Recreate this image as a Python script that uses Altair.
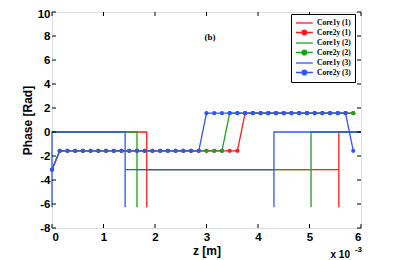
import altair as alt
import pandas as pd

# ---------------- data (z in units of 1e-3 m, phase in rad) ----------------
series_names = ["Core1y (1)", "Core2y (1)", "Core1y (2)", "Core2y (2)", "Core1y (3)", "Core2y (3)"]
series_colors = ["#ff1a1a", "#ff1a1a", "#1fa01f", "#1fa01f", "#3355f5", "#3355f5"]

core1y_1_z = [0.0, 1.84, 1.84, 1.84, 5.57, 5.57, 5.57, 6.0]
core1y_1_phase = [0.0, 0.0, -6.28, -3.14, -3.14, -6.28, 0.0, 0.0]
core1y_2_z = [0.0, 1.65, 1.65, 1.65, 5.03, 5.03, 5.03, 6.0]
core1y_2_phase = [0.0, 0.0, -6.28, -3.14, -3.14, -6.28, 0.0, 0.0]
core1y_3_z = [0.0, 0.0, 1.42, 1.42, 1.42, 4.31, 4.31, 4.31, 6.0]
core1y_3_phase = [-6.28, 0.0, 0.0, -6.28, -3.14, -3.14, -6.28, 0.0, 0.0]

core2y_z = [0.0, 0.15, 0.3, 0.45, 0.6, 0.75, 0.9, 1.05, 1.2, 1.35,
            1.5, 1.65, 1.8, 1.95, 2.1, 2.25, 2.4, 2.55, 2.7, 2.85,
            3.0, 3.15, 3.3, 3.45, 3.6, 3.75, 3.9, 4.05, 4.2, 4.35,
            4.5, 4.65, 4.8, 4.95, 5.1, 5.25, 5.4, 5.55, 5.7, 5.85]
core2y_1_phase = [-3.14, -1.57, -1.57, -1.57, -1.57, -1.57, -1.57, -1.57, -1.57, -1.57,
                  -1.57, -1.57, -1.57, -1.57, -1.57, -1.57, -1.57, -1.57, -1.57, -1.57,
                  -1.57, -1.57, -1.57, -1.57, -1.57, 1.57, 1.57, 1.57, 1.57, 1.57,
                  1.57, 1.57, 1.57, 1.57, 1.57, 1.57, 1.57, 1.57, 1.57, 1.57]
core2y_2_phase = [-3.14, -1.57, -1.57, -1.57, -1.57, -1.57, -1.57, -1.57, -1.57, -1.57,
                  -1.57, -1.57, -1.57, -1.57, -1.57, -1.57, -1.57, -1.57, -1.57, -1.57,
                  -1.57, -1.57, -1.57, 1.57, 1.57, 1.57, 1.57, 1.57, 1.57, 1.57,
                  1.57, 1.57, 1.57, 1.57, 1.57, 1.57, 1.57, 1.57, 1.57, 1.57]
core2y_3_phase = [-3.14, -1.57, -1.57, -1.57, -1.57, -1.57, -1.57, -1.57, -1.57, -1.57,
                  -1.57, -1.57, -1.57, -1.57, -1.57, -1.57, -1.57, -1.57, -1.57, -1.57,
                  1.57, 1.57, 1.57, 1.57, 1.57, 1.57, 1.57, 1.57, 1.57, 1.57,
                  1.57, 1.57, 1.57, 1.57, 1.57, 1.57, 1.57, 1.57, 1.57, -1.57]

x_ticks = [0, 1, 2, 3, 4, 5, 6]
y_ticks = [-8, -6, -4, -2, 0, 2, 4, 6, 8, 10]

panel_label = ["(b)"]
panel_label_z = [3.07]
panel_label_phase = [7.9]

# ---------------- build table ----------------
rows = []
def add(name, zs, ps, marker):
    for i, (z, p) in enumerate(zip(zs, ps)):
        rows.append({"series": name, "z": z, "phase": p, "order": i, "marker": marker})

add("Core1y (1)", core1y_1_z, core1y_1_phase, False)
add("Core2y (1)", core2y_z, core2y_1_phase, True)
add("Core1y (2)", core1y_2_z, core1y_2_phase, False)
add("Core2y (2)", core2y_z, core2y_2_phase, True)
add("Core1y (3)", core1y_3_z, core1y_3_phase, False)
add("Core2y (3)", core2y_z, core2y_3_phase, True)
df = pd.DataFrame(rows)

W, H = 309, 216
FONT = "Liberation Sans"

x_scale = alt.Scale(domain=[0, 6], nice=False, zero=False)
y_scale = alt.Scale(domain=[-8, 10], nice=False, zero=False)
color_scale = alt.Scale(domain=series_names, range=series_colors)

LINE_PATH = "M-1,0L3.2,0"
MARK_PATH = "M-1,0L3.2,0M0.5,0A0.6,0.6,0,1,1,1.7,0A0.6,0.6,0,1,1,0.5,0Z"

legend = alt.Legend(
    orient="none", legendX=239, legendY=2, title=None,
    strokeColor="black", fillColor="white", padding=4,
    symbolType=alt.ExprRef(
        "indexof(datum.value, 'Core2y') >= 0 ? '%s' : '%s'" % (MARK_PATH, LINE_PATH)),
    symbolFillColor=alt.ExprRef("scale('color', datum.value)"),
    symbolSize=64, symbolStrokeWidth=1.3,
    labelFont="Liberation Serif", labelFontWeight="bold", labelFontSize=7.5,
    labelColor="black", labelOffset=12, rowPadding=0.5,
)

x_axis = alt.Axis(values=x_ticks, ticks=False, domain=False, grid=False,
                  labelExpr="'' + datum.value", labelPadding=3,
                  labelFont=FONT, labelFontWeight="bold", labelFontSize=11.5,
                  labelColor="black", title="z [m]", titleFont=FONT,
                  titleFontWeight="bold", titleFontSize=12, titleColor="black",
                  titleY=22, titleBaseline="middle")
y_axis = alt.Axis(values=y_ticks, ticks=False, domain=False, grid=False,
                  labelExpr="'' + datum.value", labelPadding=2,
                  labelOffset=alt.ExprRef("datum.value == 10 ? 2.5 : 0"),
                  labelFont=FONT, labelFontWeight="bold", labelFontSize=11.5,
                  labelColor="black", title="Phase [Rad]", titleFont=FONT,
                  titleFontWeight="bold", titleFontSize=12, titleColor="black",
                  titleX=-25, titleY=H / 2, titleAngle=270,
                  titleAlign="center", titleBaseline="middle")

def X():
    return alt.X("z:Q", scale=x_scale, axis=x_axis, title="z [m]")

def Y():
    return alt.Y("phase:Q", scale=y_scale, axis=y_axis, title="Phase [Rad]")

lines = alt.Chart(df).mark_line(strokeWidth=1.3).encode(
    x=X(), y=Y(),
    color=alt.Color("series:N", scale=color_scale, legend=legend),
    detail="series:N",
    order="order:Q",
)

markers = alt.Chart(df).transform_filter("datum.marker").mark_point(
    filled=True, shape="circle", size=18, opacity=1
).encode(
    x=X(), y=Y(),
    color=alt.Color("series:N", scale=color_scale, legend=legend),
)

xt = pd.DataFrame({"z": x_ticks})
yt = pd.DataFrame({"phase": y_ticks})
TICK = 4
ticks_bottom = alt.Chart(xt).mark_rule(color="black", strokeWidth=1).encode(
    x=X(), y=alt.value(H), y2=alt.value(H - TICK))
ticks_top = alt.Chart(xt).mark_rule(color="black", strokeWidth=1).encode(
    x=X(), y=alt.value(0), y2=alt.value(TICK))
ticks_left = alt.Chart(yt).mark_rule(color="black", strokeWidth=1).encode(
    y=Y(), x=alt.value(0), x2=alt.value(TICK))
ticks_right = alt.Chart(yt).mark_rule(color="black", strokeWidth=1).encode(
    y=Y(), x=alt.value(W), x2=alt.value(W - TICK))

lab_df = pd.DataFrame({"z": panel_label_z, "phase": panel_label_phase, "t": panel_label})
panel = alt.Chart(lab_df).mark_text(
    font="Liberation Serif", fontWeight="bold", fontSize=9, color="black",
    align="center", baseline="middle"
).encode(x=X(), y=Y(), text="t:N")

exp_df = pd.DataFrame({"z": [6], "base": ["x 10"], "exp": ["-3"]})
exp_base = alt.Chart(exp_df).mark_text(
    font=FONT, fontWeight="bold", fontSize=10, color="black",
    align="right", baseline="middle", dx=-11
).encode(x=X(), y=alt.value(H + 27), text="base:N")
exp_pow = alt.Chart(exp_df).mark_text(
    font=FONT, fontWeight="bold", fontSize=8, color="black",
    align="right", baseline="middle", dx=1
).encode(x=X(), y=alt.value(H + 21.5), text="exp:N")

chart = alt.layer(
    lines, markers, ticks_bottom, ticks_top, ticks_left, ticks_right, panel, exp_base, exp_pow
).properties(
    width=W, height=H,
    autosize=alt.AutoSizeParams(type="none"),
    padding={"left": 44, "top": 4, "right": 30, "bottom": 32},
).configure_view(stroke="black", strokeWidth=1).configure(background="white")

chart.save("out.html", embed_options={"renderer": "svg", "actions": False})
